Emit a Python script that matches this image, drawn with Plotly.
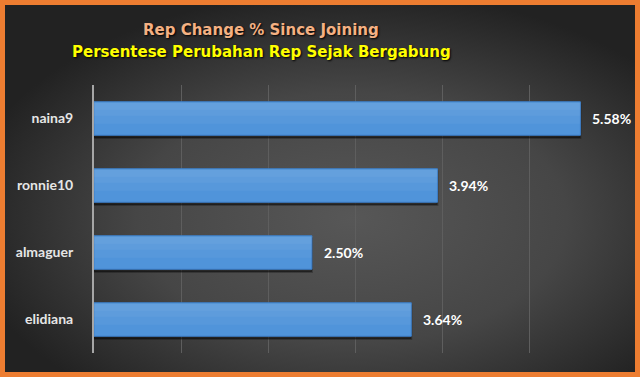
import base64
import plotly.graph_objects as go

categories = ["naina9", "ronnie10", "almaguer", "elidiana"]
values = [5.58, 3.94, 2.50, 3.64]
value_labels = ["5.58%", "3.94%", "2.50%", "3.64%"]
title_en = "Rep Change % Since Joining"
title_id = "Persentese Perubahan Rep Sejak Bergabung"

W, H = 640, 377
ML, MR, MT, MB = 94, 23, 85, 24
PW, PH = W - ML - MR, H - MT - MB

def px_x(p):
    return (p - ML) / PW

def px_y(p):
    return 1 + (MT - p) / PH

svg = '''<svg xmlns="http://www.w3.org/2000/svg" width="630" height="367" viewBox="0 0 630 367" preserveAspectRatio="none">
<defs><radialGradient id="g" cx="55%" cy="58%" r="62%">
<stop offset="0%" stop-color="#575757"/><stop offset="55%" stop-color="#464646"/><stop offset="100%" stop-color="#222222"/>
</radialGradient></defs>
<rect width="630" height="367" fill="url(#g)"/></svg>'''
src = "data:image/svg+xml;base64," + base64.b64encode(svg.encode()).decode()

fig = go.Figure()
# drop shadow
fig.add_trace(go.Bar(
    x=values, y=categories, orientation="h", width=0.5, offset=-0.29,
    marker=dict(color="rgba(0,0,0,0.45)", line=dict(color="rgba(0,0,0,0.25)", width=2)),
    hoverinfo="skip",
))
# main bar
fig.add_trace(go.Bar(
    x=values, y=categories, orientation="h", width=0.5, offset=-0.25,
    marker=dict(color="#5094DA", line=dict(color="#3D7FC9", width=1)),
    hoverinfo="skip",
))
# soft highlight steps (gradient imitation)
for off, wid in [(-0.08, 0.32), (0.04, 0.20), (0.13, 0.11)]:
    fig.add_trace(go.Bar(
        x=values, y=categories, orientation="h", width=wid, offset=off,
        marker=dict(color="rgba(255,255,255,0.045)", line=dict(width=0)),
        hoverinfo="skip",
    ))

annotations = []
for v, c, t in zip(values, categories, value_labels):
    annotations.append(dict(x=v, y=c, text=t, showarrow=False, xanchor="left",
                            xshift=10, font=dict(family="Lato", size=14, color="#FFFFFF", weight="bold")))
annotations.append(dict(xref="paper", yref="paper", x=px_x(261), y=px_y(30), text=title_en,
                        showarrow=False, xanchor="center", yanchor="middle",
                        font=dict(family="DejaVu Sans", size=15, color="#F4B183", weight="bold",
                                  shadow="1px 1px 2px #000000")))
annotations.append(dict(xref="paper", yref="paper", x=px_x(261), y=px_y(52), text=title_id,
                        showarrow=False, xanchor="center", yanchor="middle",
                        font=dict(family="DejaVu Sans", size=15, color="#FFFF00", weight="bold",
                                  shadow="1px 1px 2px #000000")))

fig.update_layout(
    width=W, height=H,
    margin=dict(l=ML, r=MR, t=MT, b=MB, pad=0),
    paper_bgcolor="#ED7D31",
    plot_bgcolor="rgba(0,0,0,0)",
    showlegend=False,
    barmode="overlay",
    images=[dict(source=src, xref="paper", yref="paper", x=px_x(5), y=px_y(5),
                 sizex=630 / PW, sizey=367 / PH, sizing="stretch", layer="below",
                 xanchor="left", yanchor="top")],
    annotations=annotations,
    xaxis=dict(range=[0, 6], dtick=1, showticklabels=False, showgrid=True,
               gridcolor="#5E5E5E", gridwidth=1, zeroline=False, showline=False, fixedrange=True),
    yaxis=dict(categoryorder="array", categoryarray=categories[::-1], showgrid=False,
               showline=True, linecolor="#A6A6A6", linewidth=2, ticks="", ticklabelstandoff=16,
               tickfont=dict(family="Lato", size=14, color="#E6E6E6", weight="bold"),
               zeroline=False, fixedrange=True),
)

fig.write_html("out.html", config={"displayModeBar": False},
               post_script="document.body.style.margin='0';document.body.style.overflow='hidden';")
